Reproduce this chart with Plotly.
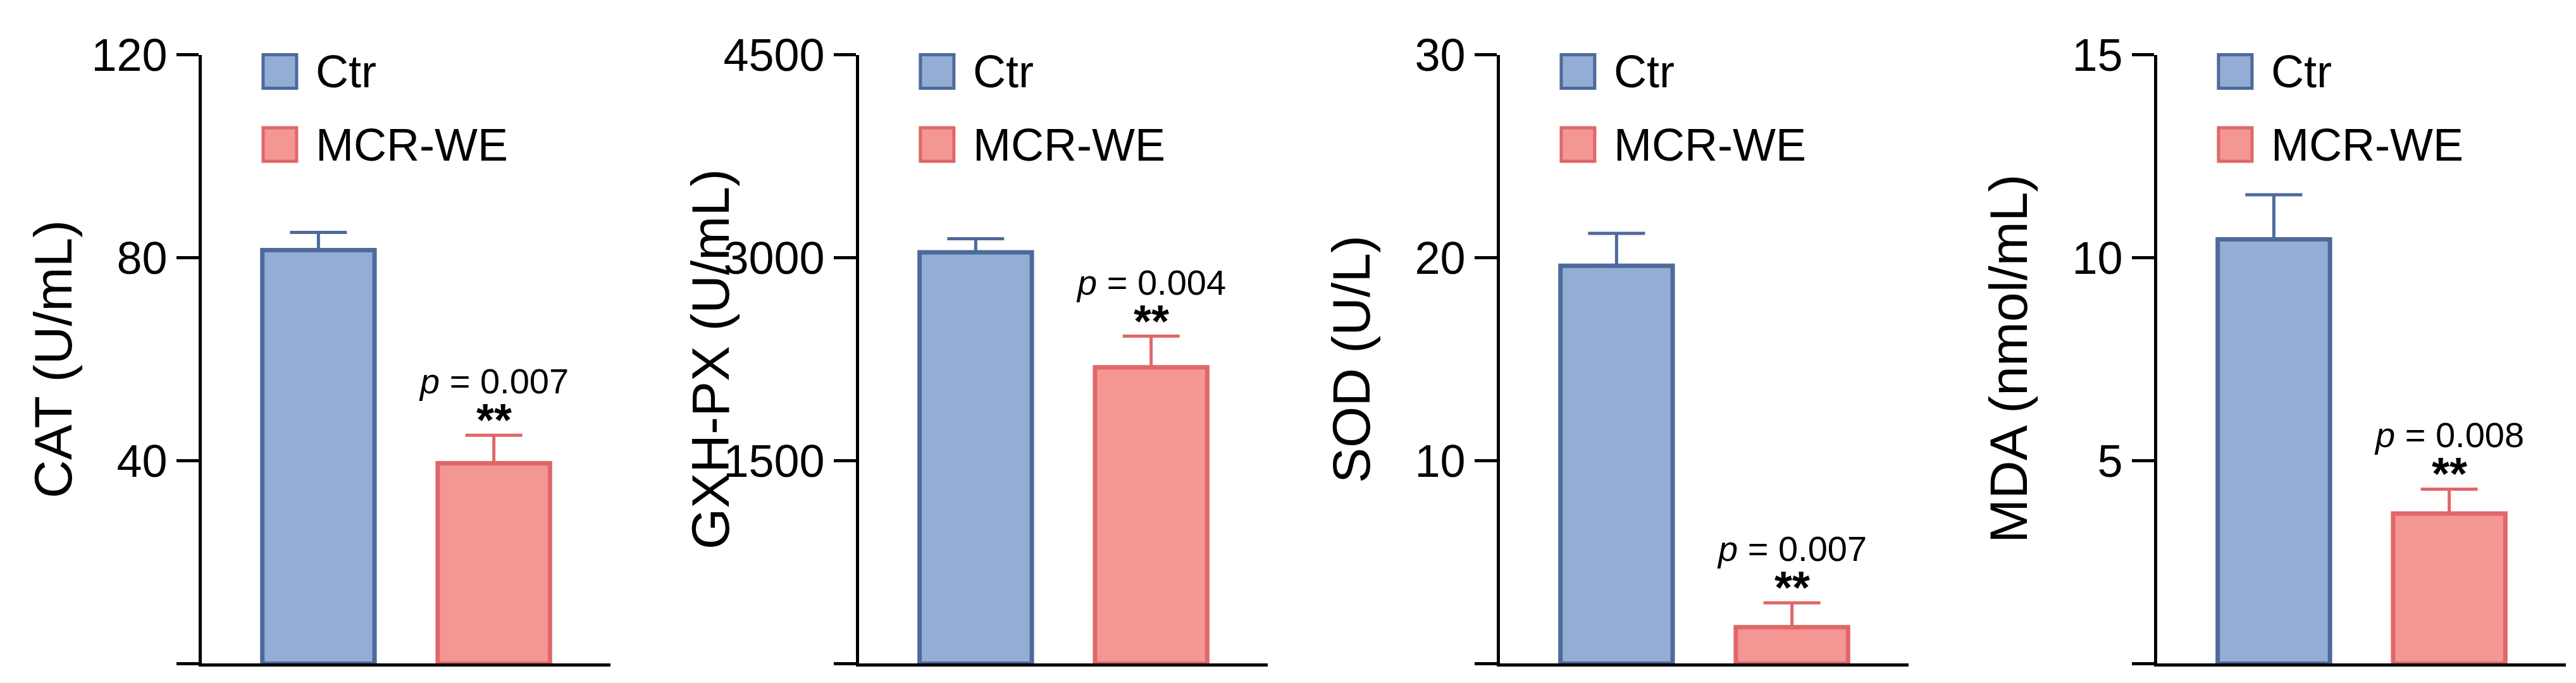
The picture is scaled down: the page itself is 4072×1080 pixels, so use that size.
import plotly.graph_objects as go

# values
groups = ['Ctr', 'MCR-WE']
titles = ['CAT (U/mL)', 'GXH-PX (U/mL)', 'SOD (U/L)', 'MDA (nmol/mL)']
means = [[81.5, 39.5], [3040, 2190], [19.6, 1.8], [10.45, 3.7]]
errs = [[3.5, 5.5], [100, 230], [1.6, 1.2], [1.1, 0.6]]
pvals = ['0.007', '0.004', '0.007', '0.008']
yticks = [[0, 40, 80, 120], [0, 1500, 3000, 4500], [0, 10, 20, 30], [0, 5, 10, 15]]

FILL = ['#93ADD4', '#F49694']
EDGE = ['#4D6A9B', '#E06768']
FONT = 'Liberation Sans, Arial, sans-serif'
W, H = 4072, 1080
x_starts = [311, 1350, 2363, 3402]
ax_w = 646
y_bot, y_top = 1040, 40

fig = go.Figure()
layout = dict(width=W, height=H, margin=dict(l=0, r=0, t=0, b=0),
              plot_bgcolor='white', paper_bgcolor='white', showlegend=False,
              font=dict(family=FONT, color='black'))
annotations, shapes = [], []

for i in range(4):
    xa = 'x' if i == 0 else f'x{i+1}'
    ya = 'y' if i == 0 else f'y{i+1}'
    for j in range(2):
        fig.add_trace(go.Bar(
            x=[j], y=[means[i][j]], width=0.64, xaxis=xa, yaxis=ya,
            marker=dict(color=FILL[j], line=dict(color=EDGE[j], width=7)),
            error_y=dict(type='data', array=[errs[i][j]], arrayminus=[0], symmetric=False,
                         color=EDGE[j], thickness=5, width=45)))
    d0 = x_starts[i] / W
    d1 = (x_starts[i] + ax_w) / W
    top = yticks[i][-1]
    layout['xaxis' if i == 0 else f'xaxis{i+1}'] = dict(
        domain=[d0, d1], range=[-0.665, 1.665], showticklabels=False, ticks='',
        showgrid=False, zeroline=False, showline=True, linecolor='black', linewidth=5,
        anchor=ya)
    layout['yaxis' if i == 0 else f'yaxis{i+1}'] = dict(
        domain=[1 - y_bot / H, 1 - y_top / H], range=[0, top], tickvals=yticks[i],
        ticks='outside', ticklen=35, tickwidth=5, tickcolor='black',
        tickfont=dict(size=72, family=FONT), showgrid=False, zeroline=False,
        showline=True, linecolor='black', linewidth=5, anchor=xa)
    xd = xa + ' domain'
    yd = ya + ' domain'
    annotations.append(dict(xref=xd, yref=yd, x=-235 / ax_w, y=0.5, text=titles[i],
                            textangle=-90, showarrow=False, font=dict(size=84),
                            xanchor='center', yanchor='middle'))
    # legend squares and labels
    for j, (y0, y1) in enumerate([(0.945, 1.0), (0.825, 0.88)]):
        shapes.append(dict(type='rect', xref=xd, yref=yd, x0=0.15, x1=0.232, y0=y0, y1=y1,
                           fillcolor=FILL[j], line=dict(color=EDGE[j], width=5)))
        annotations.append(dict(xref=xd, yref=yd, x=0.276, y=(y0 + y1) / 2, text=groups[j],
                                showarrow=False, xanchor='left', yanchor='middle',
                                font=dict(size=72)))
    ytop = means[i][1] + errs[i][1]
    annotations.append(dict(xref=xa, yref=ya, x=1, y=ytop, text='<b>**</b>', showarrow=False,
                            yanchor='bottom', yshift=-18, font=dict(size=72)))
    annotations.append(dict(xref=xa, yref=ya, x=1, y=ytop, text='<i>p</i> = ' + pvals[i],
                            showarrow=False, yanchor='bottom', yshift=52, font=dict(size=56)))

layout['annotations'] = annotations
layout['shapes'] = shapes
fig.update_layout(**layout)
fig.write_html('out.html')
